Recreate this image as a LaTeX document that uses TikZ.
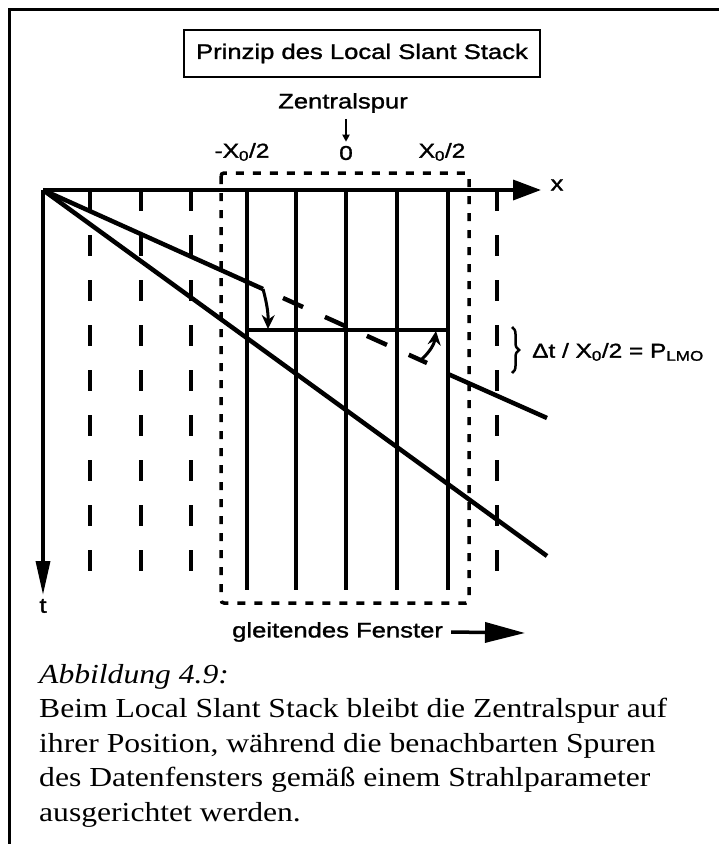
\documentclass[tikz,border=0pt]{standalone}
\usepackage{fontspec}
\setmainfont{Liberation Serif}
\newfontfamily\lsans[FakeStretch=1.22,FakeBold=1.4]{Liberation Sans}
\newfontfamily\lserif[FakeStretch=1.15]{Liberation Serif}
\usetikzlibrary{arrows.meta,decorations.pathreplacing}
\begin{document}
\begin{tikzpicture}[x=1pt,y=-1pt,
  lbl/.style={font=\lsans\fontsize{21}{25}\selectfont, inner sep=0pt},
  lbls/.style={font=\lsans\fontsize{20}{24}\selectfont, inner sep=0pt},
  captxt/.style={font=\lserif\fontsize{27.5}{33}\selectfont, inner sep=0pt, anchor=base west},
  borderline/.style={line width=3pt},
  dashv/.style={line width=3.5pt, dash pattern=on 21pt off 24pt},
  solidv/.style={line width=3.5pt},
  slant/.style={line width=4.5pt},
  win/.style={line width=3.5pt, dash pattern=on 8pt off 9pt},
  axx/.style={line width=3.5pt, -{Triangle[length=28pt,width=20pt]}},
  axt/.style={line width=3.5pt, -{Triangle[length=34pt,width=14pt]}},
  movearrow/.style={line width=3pt, -{Stealth[length=14pt,width=13pt]}},
]
\useasboundingbox (0,0) rectangle (719,844);
% frame
\draw[borderline] (9,844) -- (9,9) -- (719,9);
% title
\node[draw, line width=2.5pt, minimum width=356pt, minimum height=47pt, lbl] (title) at (362,53.5) {Prinzip des Local Slant Stack};
\node[lbl] (zentral) at (343,103) {Zentralspur};
\node[lbls] (xm) at (242,152) {-X\textsubscript{0}/2};
\node[lbls] (zero) at (346,153) {0};
\node[lbls] (xp) at (442,152) {X\textsubscript{0}/2};
\draw[line width=2pt, -{Triangle[length=7pt,width=7pt]}] (zentral.south -| zero.north) ++(0,6) -- ([yshift=4pt]zero.north);
% axes
\coordinate (O) at (43,190);
\coordinate (xe) at (541,190);
\coordinate (te) at (43,595);
% vertical traces
\foreach \x in {90,141,191,497} \draw[dashv] (\x,190) -- (\x,572);
\foreach \x in {247,296,346,397,448} \draw[solidv] (\x,190) -- (\x,590);
% window
\draw[win, rounded corners=3pt] (221,173) rectangle (469,603);
\draw[axx] (O) -- (xe);
\draw[axt] (O) -- (te);
\node[lbl] (xl) at (557,185) {x};
\node[lbl] (tl) at (43,606) {t};
% slant lines
\coordinate (L2) at (547,556);
\coordinate (A) at (263,289);
\coordinate (B) at (448,374);
\coordinate (L1) at (547,418);
\draw[slant] (O) -- (L2);
\draw[slant] (O) -- (A);
\draw[slant] (B) -- (L1);
\coordinate (D1) at (283,298);
\coordinate (D2) at (427,363);
\draw[slant, dash pattern=on 22pt off 24pt] (D1) -- (D2);
% aligned line
\coordinate (H1) at (247,330);
\coordinate (H2) at (448,330);
\draw[line width=3.5pt] (H1) -- (H2);
% shift arrows
\coordinate (A2) at (268,329);
\coordinate (C1) at (421,360);
\coordinate (C2) at (436,331);
\draw[movearrow] (A) to[bend left=8] (A2);
\draw[movearrow] (C1) to[bend right=20] (C2);
% brace and label
\coordinate (b1) at (512,327);
\coordinate (b2) at (512,373);
\draw[line width=2.5pt, decorate, decoration={brace, amplitude=7pt}] (b1) -- (b2);
\node[lbls, anchor=west] (dt) at (532,352) {Δt / X\textsubscript{0}/2 = P\textsubscript{LMO}};
% sliding window label
\node[lbl, anchor=west] (gf) at (232,632) {gleitendes Fenster};
\coordinate (ge) at (525,633);
\draw[line width=3.5pt, -{Triangle[length=40pt,width=20pt]}] ([xshift=8pt]gf.east) -- (ge);
% caption
\node[captxt] (c0) at (39,683) {\itshape Abbildung 4.9:};
\node[captxt] (c1) at (39,717.5) {Beim Local Slant Stack bleibt die Zentralspur auf};
\node[captxt] (c2) at (39,752) {ihrer Position, während die benachbarten Spuren};
\node[captxt] (c3) at (39,786.5) {des Datenfensters gemäß einem Strahlparameter};
\node[captxt] (c4) at (39,821) {ausgerichtet werden.};
\end{tikzpicture}
\end{document}
